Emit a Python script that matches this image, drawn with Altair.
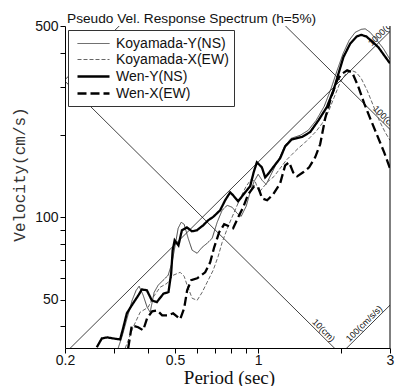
import math
import altair as alt
import pandas as pd

# ---------------- data (period T [s], pseudo velocity V [cm/s]) ----------------
SERIES = ["Koyamada-Y(NS)", "Koyamada-X(EW)", "Wen-Y(NS)", "Wen-X(EW)"]

ky_T = [0.3113, 0.3219, 0.3356, 0.3499, 0.3618, 0.3710, 0.3836, 0.3966, 0.4066, 0.4204,
        0.4346, 0.4531, 0.4724, 0.4884, 0.5008, 0.5135, 0.5265, 0.5398, 0.5581, 0.5770,
        0.6015, 0.6271, 0.6538, 0.6817, 0.7107, 0.7409, 0.7724, 0.8052, 0.8395, 0.8680,
        0.9049, 0.9355, 0.9672, 1.0, 1.0339, 1.0690, 1.1052, 1.1520, 1.2012, 1.2524,
        1.3163, 1.4191, 1.5171, 1.6216, 1.7336, 1.8371, 1.9312, 2.0308, 2.1348, 2.2443,
        2.3595, 2.4396, 2.5431, 2.6734, 2.8351, 3.0]
ky_V = [33.2, 36.75, 42.8, 49.75, 54.1, 56.0, 51.9, 46.9, 45.0, 53.2,
        56.45, 58.9, 61.4, 68.5, 79.0, 91.2, 95.9, 94.3, 83.8, 75.8,
        73.9, 77.7, 80.4, 83.8, 95.9, 106.1, 110.6, 108.8, 103.4, 100.8,
        109.7, 123.4, 135.3, 143.6, 136.5, 131.9, 141.1, 153.6, 167.1, 183.2,
        194.3, 199.3, 207.8, 226.1, 254.3, 295.9, 344.3, 397.2, 443.2, 474.0,
        486.1, 488.2, 474.0, 446.9, 414.4, 377.6]

kx_T = [0.3301, 0.3385, 0.3528, 0.3741, 0.3999, 0.4169, 0.4418, 0.4685, 0.4924, 0.5221,
        0.5398, 0.5534, 0.5770, 0.6015, 0.6271, 0.6538, 0.6875, 0.7167, 0.7409, 0.7787,
        0.8188, 0.8608, 0.9049, 0.9433, 0.9752, 1.0084, 1.0425, 1.0869, 1.1426, 1.2012,
        1.2628, 1.3274, 1.3955, 1.4669, 1.5428, 1.6216, 1.7047, 1.7920, 1.8838, 1.9805,
        2.0820, 2.1707, 2.2633, 2.3595, 2.4800, 2.6074, 2.7410, 2.8817, 3.0]
kx_V = [33.2, 35.5, 39.65, 45.0, 46.9, 51.05, 55.5, 57.4, 61.4, 62.95,
        60.9, 56.45, 50.6, 49.75, 53.2, 57.9, 64.05, 72.05, 81.0, 92.7,
        104.3, 117.3, 129.8, 137.6, 135.3, 123.4, 128.7, 135.3, 141.1, 151.0,
        161.5, 169.9, 178.6, 186.3, 196.0, 206.1, 220.4, 241.8, 274.4, 311.2,
        335.7, 344.3, 338.5, 321.9, 290.9, 256.5, 226.1, 204.4, 191.1]

wy_T = [0.2607, 0.2718, 0.2841, 0.3038, 0.3166, 0.3254, 0.3348, 0.3490, 0.3688, 0.3794,
        0.3956, 0.4124, 0.4299, 0.4543, 0.4737, 0.4844, 0.4905, 0.4987, 0.5148, 0.5297,
        0.5522, 0.5755, 0.6000, 0.6325, 0.6592, 0.6874, 0.7286, 0.7597, 0.7920, 0.8119,
        0.8465, 0.8974, 0.9355, 0.9632, 0.9892, 1.0313, 1.0601, 1.0915, 1.1331, 1.2012,
        1.2524, 1.3243, 1.4394, 1.5428, 1.6530, 1.7729, 1.8730, 1.9527, 2.0358, 2.1528,
        2.2764, 2.3595, 2.4599, 2.5857, 2.7251, 2.8577, 3.0]
wy_V = [33.5, 36.1, 36.4, 36.0, 35.8, 39.7, 44.6, 47.7, 51.9, 54.5,
        54.1, 49.7, 49.0, 52.6, 53.3, 62.4, 75.8, 82.4, 79.0, 89.6,
        91.9, 88.9, 89.6, 93.5, 97.5, 100.3, 106.1, 115.4, 123.4, 120.3,
        114.4, 123.4, 129.8, 146.0, 158.8, 152.3, 140.0, 144.8, 152.3, 164.3,
        181.7, 192.7, 196.5, 204.9, 226.1, 252.8, 290.9, 334.8, 385.0, 430.9,
        458.2, 464.0, 458.2, 439.3, 417.7, 390.6, 365.1]

wx_T = [0.3385, 0.3490, 0.3679, 0.3836, 0.3966, 0.4135, 0.4310, 0.4494, 0.4724, 0.4924,
        0.5221, 0.5398, 0.5534, 0.5723, 0.6015, 0.6430, 0.6705, 0.6932, 0.7226, 0.7534,
        0.7853, 0.8119, 0.8465, 0.8826, 0.9201, 0.9672, 1.0, 1.0339, 1.0779, 1.1331,
        1.2012, 1.2524, 1.2947, 1.3386, 1.3839, 1.4548, 1.5295, 1.6081, 1.6765, 1.7481,
        1.8371, 1.9312, 1.9969, 2.0994, 2.1889, 2.3011, 2.4192, 2.5431, 2.6960, 2.8577, 3.0]
wx_V = [33.2, 40.3, 39.65, 38.65, 42.8, 45.35, 45.7, 43.85, 43.85, 44.6,
        42.4, 46.5, 54.1, 58.9, 59.85, 62.95, 68.5, 77.7, 88.2, 94.3,
        92.7, 91.2, 100.0, 108.8, 121.3, 129.8, 128.7, 117.3, 115.4, 121.3,
        133.1, 154.8, 158.8, 146.0, 141.1, 146.0, 152.3, 165.6, 184.8, 229.9,
        274.4, 316.5, 332.9, 344.3, 338.5, 301.0, 260.8, 229.9, 199.3, 172.7, 151.0]

# tripartite guide lines: constant displacement [cm] and constant acceleration [cm/s/s]
DISP_CM = [10, 100]
ACC_CMSS = [100, 1000, 10000]

# guide-line labels: (text, period at label anchor, line kind, line level)
LABELS_RIGHT = [("10(cm)", 1.821, "D", 10)]
LABELS_LEFT = [("100(cm)", 2.56, "D", 100),
               ("100(cm/s/s)", 2.168, "A", 100),
               ("1000(cm/s/s)", 2.61, "A", 1000)]

X_TICKS = [0.2, 0.3, 0.4, 0.5, 0.6, 0.7, 0.8, 0.9, 1, 2, 3]
X_LABELED = [0.2, 0.5, 1, 3]
Y_TICKS = [40, 50, 60, 70, 80, 90, 100, 200, 300, 400, 500]
Y_LABELED = [50, 100, 500]
X_DOMAIN = [0.2, 3]
Y_DOMAIN = [33.3, 500]

# ---------------- tables ----------------
rows = []
for name, Ts, Vs in zip(SERIES, [ky_T, kx_T, wy_T, wx_T], [ky_V, kx_V, wy_V, wx_V]):
    for t, v in zip(Ts, Vs):
        rows.append({"series": name, "T": t, "V": v})
curves = pd.DataFrame(rows)


def v_of(kind, level, t):
    if kind == "D":
        return 2 * math.pi * level / t
    return level * t / (2 * math.pi)


grows = []
for d in DISP_CM:
    for t in (0.15, 4.0):
        grows.append({"id": f"D{d}", "T": t, "V": v_of("D", d, t)})
for a in ACC_CMSS:
    for t in (0.15, 4.0):
        grows.append({"id": f"A{a}", "T": t, "V": v_of("A", a, t)})
guides = pd.DataFrame(grows)


def lab_df(items):
    return pd.DataFrame([{"text": s, "T": t, "V": v_of(k, lv, t),
                          "ang": 45 if k == "D" else 315} for s, t, k, lv in items])


labR = lab_df(LABELS_RIGHT)
labL = lab_df(LABELS_LEFT)

# ---------------- encodings ----------------
SANS = "Liberation Sans"
xs = alt.Scale(type="log", domain=X_DOMAIN, nice=False)
ys = alt.Scale(type="log", domain=Y_DOMAIN, nice=False)

x_axis = alt.Axis(values=X_TICKS, format="~g",
                  labelExpr="indexof(%s, datum.value) >= 0 ? datum.label : ''" % X_LABELED,
                  grid=False, tickSize=5, tickColor="black", domainColor="black",
                  labelFont=SANS, labelFontSize=14, labelColor="#111", labelPadding=0,
                  labelFlush=False, labelOverlap=False,
                  title="Period (sec)", titleFont="Liberation Serif", titleFontSize=19,
                  titleFontWeight="normal", titleColor="#111",
                  titleX=164, titleY=35, titleBaseline="alphabetic", titleAlign="center")
y_axis = alt.Axis(values=Y_TICKS, format="~g",
                  labelExpr="indexof(%s, datum.value) >= 0 ? datum.label : ''" % Y_LABELED,
                  grid=False, tickSize=5, tickColor="black", domainColor="black",
                  labelFont=SANS, labelFontSize=14, labelColor="#111", labelPadding=2,
                  labelFlush=False, labelOverlap=False,
                  title="Velocity(cm/s)", titleFont="Liberation Mono", titleFontSize=16,
                  titleFontWeight="normal", titleColor="#333",
                  titleX=-46, titleY=148, titleAngle=270, titleAlign="center",
                  titleBaseline="middle")

X = alt.X("T:Q", scale=xs, axis=x_axis)
Y = alt.Y("V:Q", scale=ys, axis=y_axis)

legend = alt.Legend(title=None, orient="none", legendX=3, legendY=4,
                    fillColor="white", strokeColor="#333", padding=5,
                    symbolType="M-2,0L2,0", symbolSize=256, symbolOffset=11,
                    labelFont=SANS, labelFontSize=14, labelColor="#111",
                    labelOffset=13, rowPadding=0)

guide_layer = alt.Chart(guides).mark_line(clip=True, color="#111", strokeWidth=0.8).encode(
    x=X, y=Y, detail="id:N", order="T:Q")

curve_layer = alt.Chart(curves).mark_line(clip=True).encode(
    x=X, y=Y,
    color=alt.Color("series:O", sort=SERIES, scale=alt.Scale(type="ordinal", domain=SERIES,
                    range=["#333", "#555", "#000", "#000"]), legend=legend),
    strokeDash=alt.StrokeDash("series:O", sort=SERIES, scale=alt.Scale(type="ordinal", domain=SERIES,
                    range=[[1, 0], [4, 2], [1, 0], [9, 4]]), legend=legend),
    strokeWidth=alt.StrokeWidth("series:O", sort=SERIES, scale=alt.Scale(type="ordinal", domain=SERIES,
                    range=[0.9, 0.9, 2.3, 2.3]), legend=legend),
    order="T:Q",
)

labR_layer = alt.Chart(labR).mark_text(clip=True, align="right", baseline="bottom",
                                       font=SANS, fontSize=9, color="#111").encode(
    x=X, y=Y, text="text:N", angle=alt.Angle("ang:Q", scale=None))
labL_layer = alt.Chart(labL).mark_text(clip=True, align="left", baseline="bottom",
                                       font=SANS, fontSize=9, color="#111").encode(
    x=X, y=Y, text="text:N", angle=alt.Angle("ang:Q", scale=None))

frame_right = alt.Chart(pd.DataFrame({"T": [X_DOMAIN[1]], "V": [Y_DOMAIN[0]], "V2": [Y_DOMAIN[1]]})).mark_rule(
    color="black", strokeWidth=1).encode(x=X, y=Y, y2="V2:Q")

chart = alt.layer(guide_layer, labR_layer, labL_layer, curve_layer, frame_right).properties(
    width=325, height=322,
    autosize=alt.AutoSizeParams(type="none"),
    padding={"left": 65, "top": 26, "right": 17, "bottom": 38},
    title=alt.TitleParams("Pseudo Vel. Response Spectrum (h=5%)", anchor="start",
                          frame="group", baseline="alphabetic",
                          font=SANS, fontSize=13.7, fontWeight="normal", color="#111",
                          offset=4, dx=2, dy=22),
).configure_view(stroke=None)

chart.save("out.html", embed_options={"renderer": "svg", "actions": False})
